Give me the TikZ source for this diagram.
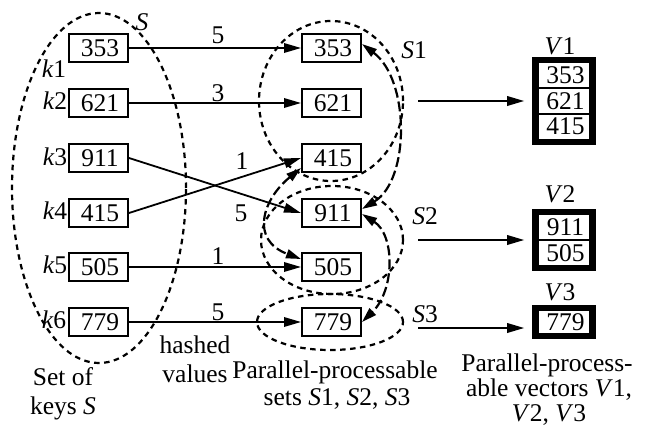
\documentclass[tikz,border=0pt]{standalone}
\usepackage{fontspec}
\setmainfont{Liberation Serif}
\usetikzlibrary{arrows.meta,shapes.geometric,fit}

\begin{document}
\begin{tikzpicture}[x=1pt,y=-1pt,
  every node/.style={font=\fontsize{25.5}{29}\selectfont, inner sep=0pt},
  key/.style={draw, line width=2pt, minimum width=59pt, minimum height=28pt},
  cell/.style={draw, line width=1.6pt, minimum width=52pt, minimum height=25.6pt},
  frame/.style={draw, line width=5pt, inner sep=2.5pt},
  group/.style={ellipse, draw, dash pattern=on 5.5pt off 4.5pt, line width=2.2pt, inner sep=0pt},
  hash/.style={-{Triangle[length=17pt,width=9.5pt]}, line width=1.8pt},
  swap/.style={{Triangle[length=15pt,width=9pt]}-{Triangle[length=15pt,width=9pt]},
               line width=2.2pt, dash pattern=on 10pt off 4pt},
  txt/.style={anchor=base}]

\useasboundingbox (0,0) rectangle (653,428);

% set of keys
\node[group, minimum width=174pt, minimum height=350pt] (S) at (99,188) {};
\node (Slab) at (142,22) {\textit{S}};
\foreach \v/\y [count=\i] in {353/48,621/103,911/158,415/213,505/267,779/322}
  \node[key] (k\i) at (98.5,\y) {\hspace*{3pt}\v};
\node (l1) at (54,69)  {\textit{k}1};
\node (l2) at (55,101) {\textit{k}2};
\node (l3) at (55,157) {\textit{k}3};
\node (l4) at (55,211) {\textit{k}4};
\node (l5) at (55,265) {\textit{k}5};
\node (l6) at (54,320) {\textit{k}6};

% hashed values, grouped into parallel-processable sets
\foreach \v/\y [count=\i] in {353/48,621/103,415/158,911/213,505/267,779/322}
  \node[key] (h\i) at (331.5,\y) {\hspace*{3pt}\v};
\node[group, minimum width=144pt, minimum height=160pt] (S1) at (331,101) {};
\node[group, minimum width=142pt, minimum height=108pt] (S2) at (332,240) {};
\node[group, minimum width=146pt, minimum height=56pt]  (S3) at (330,322) {};
\node (S1lab) at (414,50)  {\textit{S}1};
\node (S2lab) at (425,216) {\textit{S}2};
\node (S3lab) at (425,314) {\textit{S}3};

% hashing arrows
\draw[hash] (k1.east) -- (h1.west);
\draw[hash] (k2.east) -- (h2.west);
\draw[hash] (k3.east) -- (h4.west);
\draw[hash] (k4.east) -- (h3.west);
\draw[hash] (k5.east) -- (h5.west);
\draw[hash] (k6.east) -- (h6.west);
\node (n1) at (218,35)  {5};
\node (n2) at (218,93)  {3};
\node (n3) at (242,161) {1};
\node (n4) at (241,213) {5};
\node (n5) at (218,256) {1};
\node (n6) at (218,312) {5};

% conflicting pairs
\draw[swap] ([yshift=4pt]h1.east) .. controls (410,80) and (410,180) .. ([yshift=4pt]h4.east);
\draw[swap] ([yshift=-1pt]h4.east) .. controls (395,235) and (395,290) .. (h6.east);
\draw[swap] ([yshift=-10pt]h3.west) .. controls (262,200) and (250,240) .. ([yshift=8pt]h5.west);

% parallel-processable vectors
\node[cell] (c11) at (564,75.4)  {\hspace*{3pt}353};
\node[cell] (c12) at (564,101)   {\hspace*{3pt}621};
\node[cell] (c13) at (564,126.6) {\hspace*{3pt}415};
\node[frame, fit=(c11)(c13)] (V1) {};
\node[cell] (c21) at (564,227.2) {\hspace*{3pt}911};
\node[cell] (c22) at (564,252.8) {\hspace*{3pt}505};
\node[frame, fit=(c21)(c22)] (V2) {};
\node[cell, minimum height=23pt] (c31) at (564,322) {\hspace*{3pt}779};
\node[frame, fit=(c31)] (V3) {};
\node (V1lab) at (560,46)  {\textit{V}1};
\node (V2lab) at (560,194) {\textit{V}2};
\node (V3lab) at (560,292) {\textit{V}3};

\draw[hash] ([xshift=14pt]S1.east) -- ([xshift=-8pt]V1.west);
\draw[hash] ([xshift=14pt]S2.east) -- ([xshift=-8pt]V2.west);
\draw[hash] ([xshift=14pt,yshift=-6pt]S3.east) -- ([xshift=-8pt,yshift=-6pt]V3.west);

% captions
\node[txt] (t1) at (63,385) {Set of};
\node[txt] (t2) at (63,414) {keys \textit{S}};
\node[txt] (t3) at (195,353) {hashed};
\node[txt] (t4) at (195,382) {values};
\node[txt] (t5) at (335,378) {Parallel-processable};
\node[txt] (t6) at (337,405) {sets \textit{S}1, \textit{S}2, \textit{S}3};
\node[txt] (t7) at (547,371) {Parallel-process-};
\node[txt] (t8) at (549,396) {able vectors \textit{V}1,};
\node[txt] (t9) at (549,421) {\textit{V}2, \textit{V}3};
\end{tikzpicture}
\end{document}
